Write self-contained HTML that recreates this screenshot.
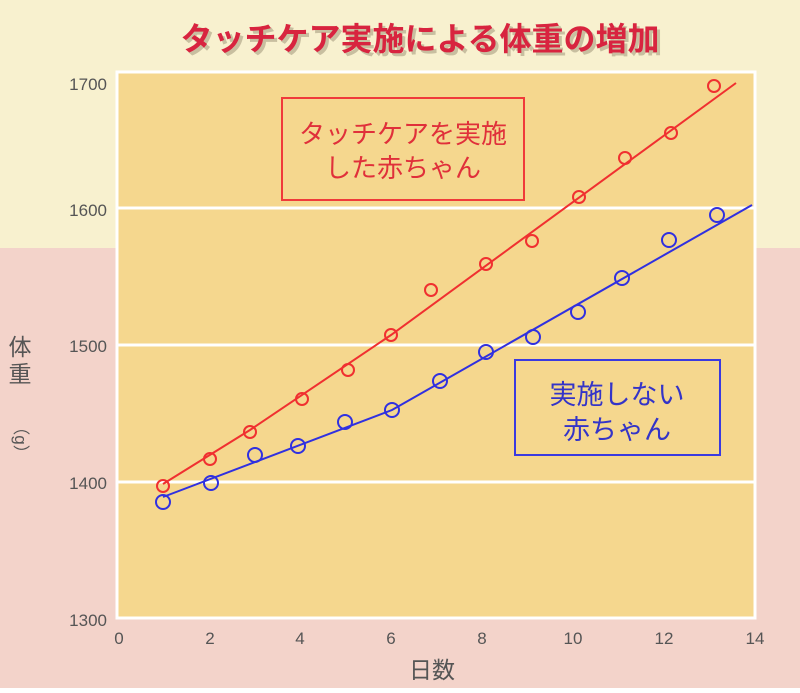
<!DOCTYPE html>
<html><head><meta charset="utf-8"><style>
body{margin:0;width:800px;height:688px;overflow:hidden;font-family:"Liberation Sans","Noto Sans CJK JP",sans-serif}
</style></head><body>
<svg width="800" height="688" xmlns="http://www.w3.org/2000/svg" font-family="Liberation Sans, Noto Sans CJK JP, sans-serif">
<rect width="800" height="248" fill="#f8f1cf"/>
<rect y="248" width="800" height="440" fill="#f3d3ca"/>
<rect x="117" y="72" width="638" height="546" fill="#f5d78e" stroke="#fff" stroke-width="3"/>
<g stroke="#fff" stroke-width="3">
<line x1="117" y1="208" x2="755" y2="208"/><line x1="117" y1="345" x2="755" y2="345"/><line x1="117" y1="482" x2="755" y2="482"/>
</g>
<text x="420" y="50" text-anchor="middle" font-size="32" font-weight="bold" fill="#c8bfa0" transform="translate(3,3)">タッチケア実施による体重の増加</text>
<text x="420" y="50" text-anchor="middle" font-size="32" font-weight="bold" fill="#d8243f">タッチケア実施による体重の増加</text>
<g font-size="17" fill="#555" text-anchor="end">
<text x="107" y="90">1700</text><text x="107" y="216">1600</text><text x="107" y="352">1500</text><text x="107" y="489">1400</text><text x="107" y="626">1300</text>
</g>
<g font-size="17" fill="#555" text-anchor="middle">
<text x="119" y="644">0</text><text x="210" y="644">2</text><text x="300" y="644">4</text><text x="391" y="644">6</text><text x="482" y="644">8</text><text x="573" y="644">10</text><text x="664" y="644">12</text><text x="755" y="644">14</text>
</g>
<text x="432" y="678" text-anchor="middle" font-size="23" fill="#555">日数</text>
<g font-size="23" fill="#555" text-anchor="middle">
<text x="20" y="355">体</text><text x="20" y="382">重</text>
<text x="20" y="445" font-size="17" transform="rotate(90 20 440)">（g）</text>
</g>
<polyline points="163,484 250,430 391,335 736,83" fill="none" stroke="#f03030" stroke-width="2"/>
<polyline points="163,497 392,410 752,205" fill="none" stroke="#3030e0" stroke-width="2"/>
<g fill="none" stroke="#f03030" stroke-width="2">
<circle cx="163" cy="486" r="6"/><circle cx="210" cy="459" r="6"/><circle cx="250" cy="432" r="6"/><circle cx="302" cy="399" r="6"/><circle cx="348" cy="370" r="6"/><circle cx="391" cy="335" r="6"/><circle cx="431" cy="290" r="6"/><circle cx="486" cy="264" r="6"/><circle cx="532" cy="241" r="6"/><circle cx="579" cy="197" r="6"/><circle cx="625" cy="158" r="6"/><circle cx="671" cy="133" r="6"/><circle cx="714" cy="86" r="6"/>
</g>
<g fill="none" stroke="#3030e0" stroke-width="2">
<circle cx="163" cy="502" r="7"/><circle cx="211" cy="483" r="7"/><circle cx="255" cy="455" r="7"/><circle cx="298" cy="446" r="7"/><circle cx="345" cy="422" r="7"/><circle cx="392" cy="410" r="7"/><circle cx="440" cy="381" r="7"/><circle cx="486" cy="352" r="7"/><circle cx="533" cy="337" r="7"/><circle cx="578" cy="312" r="7"/><circle cx="622" cy="278" r="7"/><circle cx="669" cy="240" r="7"/><circle cx="717" cy="215" r="7"/>
</g>
<rect x="282" y="98" width="242" height="102" fill="none" stroke="#f03a3a" stroke-width="2"/>
<g font-size="26" fill="#e0303a" text-anchor="middle"><text x="403" y="143">タッチケアを実施</text><text x="403" y="177">した赤ちゃん</text></g>
<rect x="515" y="360" width="205" height="95" fill="none" stroke="#3a3ae0" stroke-width="2"/>
<g font-size="27" fill="#3434c8" text-anchor="middle"><text x="617" y="404">実施しない</text><text x="617" y="439">赤ちゃん</text></g>
</svg>
</body></html>
